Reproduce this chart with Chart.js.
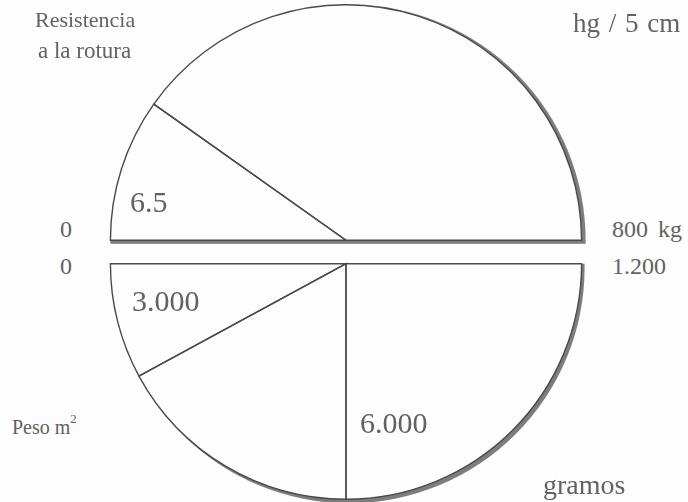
<!DOCTYPE html>
<html>
<head>
<meta charset="utf-8">
<script src="https://cdn.jsdelivr.net/npm/chart.js@4.4.1/dist/chart.umd.min.js"></script>
<style>
    body { margin: 0; background: #fdfdfd; }
    #wrap { position: relative; width: 688px; height: 502px; overflow: hidden; }
    canvas { position: absolute; }
    .lbl {
        position: absolute;
        font-family: "Liberation Serif", "DejaVu Serif", serif;
        color: #626262;
        white-space: nowrap;
        line-height: 1;
    }
</style>
</head>
<body>
<div id="wrap">
    <canvas id="topGauge"></canvas>
    <canvas id="bottomGauge"></canvas>
</div>
<script>
// Resistencia a la rotura (escala 0 - 800 kg)
const topScale = ['0', '800 kg'];
const topValues = [157, 643];          // sector marcado, resto
const topMarkLabel = '6.5';

// Peso m2 (escala 0 - 1.200), sectores de derecha a izquierda
const bottomScale = ['0', '1.200'];
const bottomValues = [600, 410, 190];
const bottomMarkLabels = ['6.000', '3.000'];

const LINE = '#4a4a4a';
const SHADOW = '#7d7d7d';

// sombra gris en el borde exterior (media luna desplazada) y en la base
function shadowPlugin(dx, dy, upper) {
    return {
        id: 'shadow',
        beforeDatasetsDraw(chart) {
            const arc = chart.getDatasetMeta(0).data[0];
            if (!arc) return;
            const { x, y, outerRadius: r } = arc.getProps(['x', 'y', 'outerRadius'], true);
            const ctx = chart.ctx;
            ctx.save();
            ctx.beginPath();
            if (upper) {
                ctx.rect(0, 0, chart.width, y + 1);
            } else {
                ctx.rect(0, y, chart.width, chart.height - y);
            }
            ctx.clip();
            ctx.beginPath();
            ctx.rect(0, 0, chart.width, chart.height);
            ctx.arc(x, y, r, 0, Math.PI * 2, true);
            ctx.clip('evenodd');
            ctx.beginPath();
            ctx.arc(x + dx, y + dy, r, 0, Math.PI * 2);
            ctx.fillStyle = SHADOW;
            ctx.fill();
            ctx.restore();
            if (upper) {
                ctx.save();
                ctx.fillStyle = SHADOW;
                ctx.fillRect(x - r, y, 2 * r + dx, 3.5);
                ctx.restore();
            }
        }
    };
}

function makeGauge(id, top, values, rotation, padding, plugin) {
    const canvas = document.getElementById(id);
    canvas.width = 500;
    canvas.height = 252;
    canvas.style.left = '96px';
    canvas.style.top = top + 'px';
    return new Chart(canvas.getContext('2d'), {
        type: 'pie',
        data: {
            labels: values.map((v, i) => 's' + i),
            datasets: [{
                data: values,
                backgroundColor: 'rgba(255,255,255,0)',
                borderColor: LINE,
                borderWidth: 1.4,
                borderJoinStyle: 'miter'
            }]
        },
        options: {
            responsive: false,
            animation: false,
            rotation: rotation,
            circumference: 180,
            layout: { padding: padding },
            plugins: {
                legend: { display: false },
                tooltip: { enabled: false }
            }
        },
        plugins: [plugin]
    });
}

makeGauge('topGauge', 0, topValues, -90,
    { left: 13, right: 13, top: 4, bottom: 11 }, shadowPlugin(4, 0, true));
makeGauge('bottomGauge', 252, bottomValues, 90,
    { left: 13, right: 13, top: 11, bottom: 4 }, shadowPlugin(3, 4, false));

// textos
const wrap = document.getElementById('wrap');
function label(text, x, y, size, extra) {
    const d = document.createElement('div');
    d.className = 'lbl';
    d.innerHTML = text;
    d.style.left = x + 'px';
    d.style.top = y + 'px';
    d.style.fontSize = size + 'px';
    Object.assign(d.style, extra || {});
    wrap.appendChild(d);
    return d;
}

label('Resistencia', 35, 9, 22);
label('a la rotura', 38, 39, 23);
label('hg / 5 cm', 573, 10, 27, { wordSpacing: '2px' });
label(topScale[0], 60, 217, 24);
label(topScale[1], 612, 217, 24, { wordSpacing: '4px' });
label(bottomScale[0], 60, 254, 24);
label(bottomScale[1], 612, 254, 24);
label(topMarkLabel, 130, 187, 30);
label(bottomMarkLabels[1], 132, 286, 30);
label(bottomMarkLabels[0], 360, 408, 30);
label('Peso m<span style="font-size:13px;position:relative;top:-11px">2</span>', 12, 417, 20);
label('gramos', 543, 471, 28);
</script>
</body>
</html>
